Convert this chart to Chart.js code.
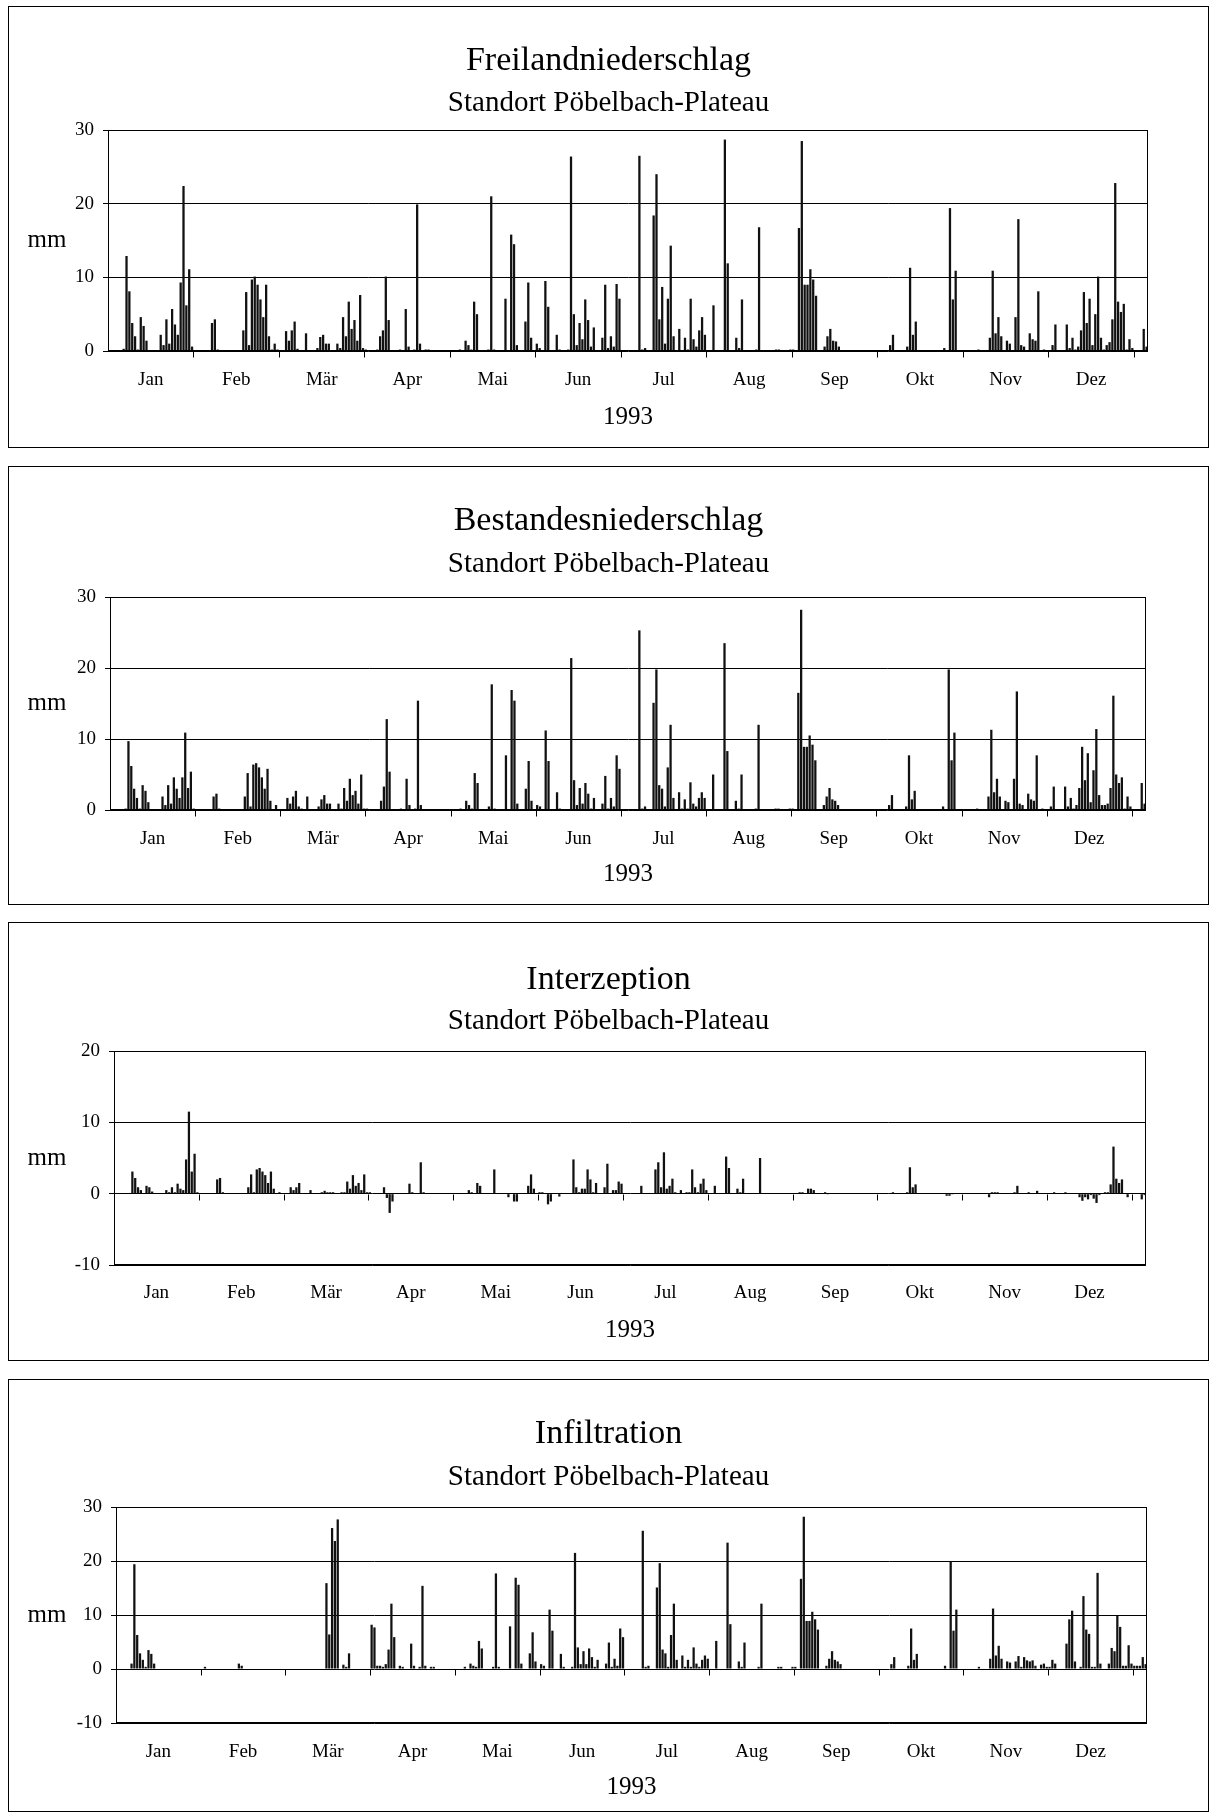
<!DOCTYPE html>
<html>
<head>
<meta charset="utf-8">
<script src="https://cdn.jsdelivr.net/npm/chart.js@4"></script>
<style>
  html, body { margin: 0; padding: 0; background: #fff; }
  body { width: 1209px; height: 1812px; position: relative; overflow: hidden; }
  .panel { position: absolute; left: 8px; width: 1199px; border: 1px solid #000; background: #fff; }
  canvas { display: block; }
</style>
</head>
<body>
<div class="panel" style="top:6px;height:440px"><canvas id="c1" width="1199" height="440"></canvas></div>
<div class="panel" style="top:466px;height:437px"><canvas id="c2" width="1199" height="437"></canvas></div>
<div class="panel" style="top:922px;height:437px"><canvas id="c3" width="1199" height="437"></canvas></div>
<div class="panel" style="top:1379px;height:431px"><canvas id="c4" width="1199" height="431"></canvas></div>
<script>
// Tage 1993 (Index 0 = 1. Januar), Beschriftung alle 30 Tage
const tage = Array.from({ length: 365 }, (_, i) => i + 1);
const monate = ['Jan', 'Feb', 'Mär', 'Apr', 'Mai', 'Jun', 'Jul', 'Aug', 'Sep', 'Okt', 'Nov', 'Dez'];

// [Tagesindex, mm] - Tage ohne Eintrag = kein Wert
const freiland = [
  [5,0.3],[6,12.9],[7,8.1],[8,3.8],[9,2.0],[10,0.2],[11,4.6],[12,3.4],[13,1.4],
  [18,2.2],[19,0.8],[20,4.3],[21,1.0],[22,5.7],[23,3.6],[24,2.2],[25,9.3],[26,22.4],[27,6.2],[28,11.1],[29,0.6],
  [36,3.8],[37,4.3],[38,0.2],
  [47,2.8],[48,8.0],[49,0.8],[50,9.7],[51,10.1],[52,9.0],[53,7.0],[54,4.6],[55,9.0],[56,2.0],[57,0.2],[58,1.0],[59,0.2],
  [62,2.7],[63,1.4],[64,2.8],[65,4.0],[66,0.3],[69,2.4],
  [73,0.4],[74,1.9],[75,2.2],[76,1.0],[77,1.0],
  [80,1.0],[81,0.4],[82,4.6],[83,2.0],[84,6.7],[85,3.0],[86,4.2],[87,1.4],[88,7.6],[89,0.4],[90,0.2],
  [94,0.2],[95,2.0],[96,2.8],[97,10.1],[98,4.2],
  [102,0.2],[104,5.7],[105,0.6],[107,0.2],[108,19.9],[109,1.0],[111,0.2],[112,0.2],
  [123,0.2],[125,1.4],[126,0.8],[127,0.2],[128,6.7],[129,5.0],
  [133,0.2],[134,21.0],[135,0.2],
  [139,7.1],[141,15.8],[142,14.5],[143,0.8],
  [146,4.0],[147,9.3],[148,1.8],[150,1.0],[151,0.4],
  [153,9.5],[154,6.0],[157,2.2],[158,0.2],
  [161,0.2],[162,26.4],[163,5.0],[164,0.8],[165,3.8],[166,1.6],[167,7.0],[168,4.2],[169,0.6],[170,3.2],
  [173,1.8],[174,9.0],[175,0.4],[176,2.0],[177,0.6],[178,9.1],[179,7.1],
  [186,26.5],[187,0.2],[188,0.4],
  [191,18.4],[192,24.0],[193,4.3],[194,8.7],[195,1.0],[196,7.1],[197,14.3],[198,2.0],
  [200,3.0],[202,1.8],[203,0.2],[204,7.1],[205,1.6],[206,0.6],[207,2.8],[208,4.6],[209,2.2],
  [212,6.2],[216,28.7],[217,11.9],
  [220,1.8],[221,0.4],[222,7.0],[227,0.2],[228,16.8],
  [234,0.2],[235,0.2],[239,0.2],[240,0.2],
  [242,16.7],[243,28.5],[244,9.0],[245,9.0],[246,11.1],[247,9.7],[248,7.5],
  [251,0.6],[252,2.0],[253,3.0],[254,1.4],[255,1.3],[256,0.6],
  [274,0.8],[275,2.2],
  [280,0.6],[281,11.3],[282,2.2],[283,4.0],
  [293,0.4],[295,19.4],[296,7.0],[297,10.9],
  [305,0.2],
  [309,1.8],[310,10.9],[311,2.4],[312,4.6],[313,2.0],[315,1.4],[316,1.0],
  [318,4.6],[319,17.9],[320,0.8],[321,0.6],[323,2.4],[324,1.6],[325,1.4],[326,8.1],[328,0.2],
  [331,0.8],[332,3.6],
  [336,3.6],[337,0.4],[338,1.8],[339,0.2],[340,0.6],[341,2.8],[342,8.0],[343,3.8],[344,7.1],[345,0.8],
  [346,5.0],[347,10.1],[348,1.8],[349,0.2],[350,0.8],[351,1.2],[352,4.3],[353,22.8],[354,6.7],[355,5.3],
  [356,6.4],[357,0.2],[358,1.6],[359,0.4],[363,3.0],[364,0.6]
];

const bestand = [
  [5,0.2],[6,9.7],[7,6.2],[8,3.0],[9,1.7],[10,0.2],[11,3.5],[12,2.7],[13,1.1],
  [18,1.9],[19,0.7],[20,3.5],[21,0.9],[22,4.6],[23,3.0],[24,1.7],[25,4.6],[26,10.9],[27,3.1],[28,5.4],[29,0.2],
  [36,1.9],[37,2.3],[38,0.2],
  [47,1.9],[48,5.2],[49,0.5],[50,6.4],[51,6.6],[52,6.0],[53,4.6],[54,3.0],[55,5.8],[56,1.3],[58,0.7],
  [62,1.7],[63,0.9],[64,1.9],[65,2.7],[66,0.5],[67,0.2],[69,1.9],
  [73,0.5],[74,1.5],[75,2.1],[76,0.9],[77,0.9],
  [80,0.9],[81,0.2],[82,3.1],[83,1.3],[84,4.4],[85,2.1],[86,2.7],[87,0.9],[88,5.0],[89,0.2],[90,0.2],
  [95,1.3],[96,3.3],[97,12.8],[98,5.4],
  [102,0.2],[104,4.4],[105,0.7],[107,0.2],[108,15.4],[109,0.7],
  [123,0.2],[125,1.3],[126,0.7],[127,0.2],[128,5.2],[129,3.8],
  [133,0.5],[134,17.7],[135,0.2],
  [139,7.7],[141,16.9],[142,15.4],[143,0.9],
  [146,3.0],[147,6.9],[148,1.3],[150,0.7],[151,0.5],
  [153,11.2],[154,6.9],[157,2.5],[158,0.2],
  [162,21.4],[163,4.2],[164,0.7],[165,3.1],[166,0.9],[167,3.8],[168,2.3],[169,0.2],[170,1.7],
  [173,0.9],[174,4.8],[175,0.2],[176,1.7],[177,0.5],[178,7.7],[179,5.8],
  [186,25.3],[187,0.2],[188,0.5],
  [191,15.1],[192,19.8],[193,3.5],[194,3.0],[195,0.5],[196,6.0],[197,12.0],[198,1.7],
  [200,2.5],[201,0.2],[202,1.5],[203,0.2],[204,3.9],[205,0.9],[206,0.5],[207,1.7],[208,2.5],[209,1.7],
  [212,5.0],[216,23.5],[217,8.3],
  [220,1.3],[221,0.2],[222,5.0],[227,0.2],[228,12.0],
  [234,0.2],[235,0.2],[239,0.2],[240,0.2],
  [242,16.5],[243,28.2],[244,8.9],[245,8.9],[246,10.5],[247,9.2],[248,7.0],
  [251,0.7],[252,1.9],[253,3.1],[254,1.5],[255,1.3],[256,0.7],
  [274,0.7],[275,2.1],
  [280,0.5],[281,7.7],[282,1.5],[283,2.7],
  [293,0.5],[295,19.8],[296,7.0],[297,10.9],
  [305,0.2],
  [309,1.9],[310,11.3],[311,2.5],[312,4.4],[313,1.9],[315,1.3],[316,1.1],
  [318,4.4],[319,16.7],[320,0.9],[321,0.7],[323,2.3],[324,1.5],[325,1.3],[326,7.7],[328,0.2],
  [331,0.5],[332,3.3],
  [336,3.3],[337,0.5],[338,1.7],[339,0.2],[340,0.7],[341,3.1],[342,8.9],[343,4.2],[344,8.0],[345,1.1],
  [346,5.6],[347,11.4],[348,2.1],[349,0.7],[350,0.7],[351,0.9],[352,3.1],[353,16.1],[354,5.0],[355,3.8],
  [356,4.6],[357,0.2],[358,1.9],[359,0.5],[363,3.8],[364,0.9]
];

const interzeption = [
  [5,0.1],[6,3.1],[7,2.2],[8,0.9],[9,0.5],[11,1.1],[12,0.9],[13,0.3],
  [18,0.5],[19,0.2],[20,0.9],[21,0.2],[22,1.4],[23,0.7],[24,0.5],[25,4.8],[26,11.5],[27,3.1],[28,5.6],[29,0.2],
  [36,2.0],[37,2.2],[38,0.2],
  [47,0.9],[48,2.7],[49,0.2],[50,3.4],[51,3.6],[52,3.1],[53,2.6],[54,1.5],[55,3.1],[56,0.7],[58,0.2],
  [62,0.9],[63,0.5],[64,0.9],[65,1.5],[69,0.5],
  [73,0.2],[74,0.4],[75,0.2],[76,0.2],[77,0.2],
  [80,0.2],[81,0.2],[82,1.7],[83,0.7],[84,2.6],[85,1.1],[86,1.5],[87,0.5],[88,2.7],[89,0.2],[90,0.2],
  [95,0.9],[96,-0.6],[97,-2.7],[98,-1.1],
  [104,1.4],[105,0.2],[108,4.4],[109,0.2],
  [125,0.5],[126,0.2],[128,1.5],[129,1.1],[134,3.4],
  [139,-0.5],[141,-1.1],[142,-1.1],
  [146,1.1],[147,2.7],[148,0.7],[150,0.2],[151,0.2],
  [153,-1.5],[154,-1.1],[157,-0.4],
  [162,4.8],[163,0.9],[164,0.2],[165,0.7],[166,0.7],[167,3.4],[168,2.0],[169,0.2],[170,1.5],
  [173,0.9],[174,4.2],[176,0.5],[177,0.5],[178,1.7],[179,1.4],
  [186,1.1],
  [191,3.4],[192,4.4],[193,0.9],[194,5.8],[195,0.7],[196,1.1],[197,2.1],[198,0.2],
  [200,0.5],[202,0.2],[203,0.2],[204,3.4],[205,0.9],[206,0.2],[207,1.4],[208,2.1],[209,0.5],
  [212,1.1],[216,5.2],[217,3.6],
  [220,0.7],[221,0.2],[222,2.1],[228,5.0],
  [242,0.2],[243,0.2],[245,0.7],[246,0.7],[247,0.5],[251,0.2],[252,-0.1],
  [275,0.2],
  [280,0.2],[281,3.7],[282,0.9],[283,1.3],
  [294,-0.3],[295,-0.3],[296,-0.1],
  [309,-0.5],[310,0.2],[311,0.2],[312,0.2],
  [318,0.2],[319,1.1],[323,0.2],[326,0.4],[332,0.2],[336,0.2],
  [341,-0.5],[342,-1.0],[343,-0.5],[344,-0.8],[345,-0.2],[346,-0.7],[347,-1.3],[348,-0.2],
  [350,0.2],[351,0.2],[352,1.3],[353,6.6],[354,2.1],[355,1.5],[356,2.0],[358,-0.5],
  [363,-0.8],[364,-0.2]
];

const infiltration = [
  [5,1.0],[6,19.4],[7,6.3],[8,2.9],[9,1.7],[10,0.4],[11,3.5],[12,2.8],[13,1.0],
  [31,0.4],[43,1.0],[44,0.6],
  [74,15.9],[75,6.4],[76,26.1],[77,23.7],[78,27.7],[80,0.8],[81,0.4],[82,2.9],
  [90,8.2],[91,7.7],[92,0.6],[93,0.6],[94,0.4],[95,0.9],[96,3.6],[97,12.1],[98,5.9],
  [100,0.6],[101,0.4],[104,4.7],[105,0.6],[107,0.4],[108,15.4],[109,0.6],[111,0.4],[112,0.4],
  [123,0.4],[125,1.0],[126,0.6],[127,0.4],[128,5.2],[129,3.8],
  [133,0.4],[134,17.7],[135,0.4],
  [139,7.9],[141,16.9],[142,15.6],[143,1.0],
  [146,2.9],[147,6.8],[148,1.4],[150,0.9],[151,0.6],
  [153,11.0],[154,7.1],[157,2.8],[158,0.4],
  [161,0.4],[162,21.5],[163,4.0],[164,0.9],[165,3.3],[166,0.9],[167,3.8],[168,2.2],[169,0.4],[170,1.7],
  [173,1.0],[174,4.9],[175,0.4],[176,1.9],[177,0.6],[178,7.5],[179,5.9],
  [186,25.6],[187,0.4],[188,0.6],
  [191,15.1],[192,19.6],[193,3.6],[194,2.9],[195,0.4],[196,6.3],[197,12.1],[198,1.7],
  [200,2.5],[201,0.4],[202,1.7],[203,0.4],[204,4.0],[205,1.0],[206,0.4],[207,1.7],[208,2.5],[209,1.9],
  [212,5.2],[216,23.4],[217,8.3],
  [220,1.4],[221,0.4],[222,4.9],[227,0.4],[228,12.1],
  [234,0.4],[235,0.4],[239,0.4],[240,0.4],
  [242,16.7],[243,28.2],[244,8.9],[245,8.9],[246,10.6],[247,9.2],[248,7.3],
  [251,0.6],[252,1.9],[253,3.3],[254,1.7],[255,1.4],[256,0.9],
  [274,0.9],[275,2.2],
  [280,0.6],[281,7.5],[282,1.7],[283,2.8],
  [293,0.6],[295,19.9],[296,7.1],[297,11.0],
  [305,0.4],
  [309,1.9],[310,11.2],[311,2.5],[312,4.3],[313,1.9],[315,1.4],[316,1.2],
  [318,1.4],[319,2.4],[320,0.4],[321,2.2],[322,1.6],[323,1.4],[324,1.6],[325,0.6],[326,-0.2],
  [327,0.8],[328,1.0],[329,0.4],[330,0.4],[331,1.7],[332,1.0],
  [336,4.7],[337,9.2],[338,10.8],[339,1.4],[341,0.4],[342,13.5],[343,7.3],[344,6.5],[345,0.4],
  [346,0.4],[347,17.8],[348,1.0],
  [351,1.0],[352,3.9],[353,3.3],[354,9.9],[355,7.8],[356,0.6],[357,0.6],[358,4.4],[359,1.0],
  [360,0.6],[361,0.6],[362,0.6],[363,2.2],[364,0.9]
];

function tagesreihe(paare) {
  const werte = tage.map(() => null);
  paare.forEach(([i, mm]) => { werte[i] = mm; });
  return werte;
}

Chart.defaults.font.family = '"Liberation Serif", "Times New Roman", serif';
Chart.defaults.color = '#000';

const TITEL_PX = 34, UNTER_PX = 29, TICK_PX = 19, ACHSE_PX = 25;

// Rahmen ums Diagramm, Monatsstriche an der Nulllinie, "mm" links
const rahmen = {
  id: 'rahmen',
  afterDatasetsDraw(chart) {
    const { ctx, chartArea: a, scales: { x, y } } = chart;
    ctx.save();
    ctx.strokeStyle = '#000';
    ctx.lineWidth = 1;
    ctx.strokeRect(Math.round(a.left) + 0.5, Math.round(a.top) + 0.5,
      Math.round(a.right) - Math.round(a.left) - 1, Math.round(a.bottom) - Math.round(a.top) - 1);
    const y0 = Math.round(y.getPixelForValue(0)) + 0.5;
    ctx.beginPath();
    for (let k = 1; k <= 12; k++) {
      const px = Math.round(x.getPixelForValue(30 * k - 0.5)) + 0.5;
      ctx.moveTo(px, y0);
      ctx.lineTo(px, y0 + 6);
    }
    ctx.stroke();
    ctx.fillStyle = '#000';
    ctx.font = ACHSE_PX + 'px "Liberation Serif"';
    ctx.textAlign = 'center';
    ctx.textBaseline = 'middle';
    ctx.fillText('mm', 38, (a.top + a.bottom) / 2);
    ctx.restore();
  }
};

function diagramm(id, titel, paare, min, max, g) {
  const el = document.getElementById(id);
  const W = el.width, H = el.height;
  const titelUnten = g.titelY + 0.6 * TITEL_PX;
  return new Chart(el, {
    type: 'bar',
    data: {
      labels: tage,
      datasets: [{
        data: tagesreihe(paare),
        backgroundColor: '#111',
        borderWidth: 0,
        barPercentage: 0.8,
        categoryPercentage: 1
      }]
    },
    options: {
      responsive: false,
      animation: false,
      events: [],
      devicePixelRatio: 1,
      layout: { padding: 0 },
      plugins: {
        legend: { display: false },
        tooltip: { enabled: false },
        title: {
          display: true, text: titel, color: '#000',
          font: { size: TITEL_PX, weight: 'normal', lineHeight: 1.2 },
          padding: { top: g.titelY - 0.6 * TITEL_PX, bottom: 0 }
        },
        subtitle: {
          display: true, text: 'Standort Pöbelbach-Plateau', color: '#000',
          font: { size: UNTER_PX, weight: 'normal', lineHeight: 1.2 },
          padding: { top: g.unterY - 0.6 * UNTER_PX - titelUnten, bottom: g.oben - g.unterY - 0.6 * UNTER_PX }
        }
      },
      scales: {
        x: {
          grid: { display: false, drawTicks: false },
          border: { display: false },
          ticks: {
            autoSkip: false, maxRotation: 0, minRotation: 0,
            font: { size: TICK_PX },
            padding: g.monatY - g.unten - 0.6 * TICK_PX,
            labelOffset: -1.4,
            callback: (v, i) => (i % 30 === 15 ? monate[(i - 15) / 30] : '')
          },
          title: {
            display: true, text: '1993', color: '#000',
            font: { size: ACHSE_PX, lineHeight: 1.2 },
            padding: { top: 0, bottom: H - g.jahrY - 0.6 * ACHSE_PX }
          },
          afterFit: (s) => { s.height = H - g.unten; }
        },
        y: {
          min: min, max: max,
          ticks: { stepSize: 10, font: { size: TICK_PX }, padding: 9 },
          grid: { color: '#000', lineWidth: 1, tickLength: 5, drawTicks: true },
          border: { display: true, color: '#000' },
          afterFit: (s) => { s.width = g.links; }
        },
        // leerer Rand rechts, damit die Titel mittig über dem ganzen Kasten stehen
        rand: {
          type: 'linear', position: 'right',
          grid: { display: false, drawTicks: false },
          border: { display: false },
          ticks: { display: false },
          afterFit: (s) => { s.width = W - g.rechts; }
        }
      }
    },
    plugins: [rahmen]
  });
}

diagramm('c1', 'Freilandniederschlag', freiland, 0, 30,
  { links: 99, rechts: 1139, oben: 123, unten: 344, titelY: 54, unterY: 96, monatY: 373, jahrY: 410 });
diagramm('c2', 'Bestandesniederschlag', bestand, 0, 30,
  { links: 101, rechts: 1137, oben: 130, unten: 343, titelY: 54, unterY: 97, monatY: 372, jahrY: 407 });
diagramm('c3', 'Interzeption', interzeption, -10, 20,
  { links: 105, rechts: 1137, oben: 128, unten: 342, titelY: 57, unterY: 98, monatY: 370, jahrY: 407 });
diagramm('c4', 'Infiltration', infiltration, -10, 30,
  { links: 107, rechts: 1138, oben: 127, unten: 343, titelY: 54, unterY: 97, monatY: 372, jahrY: 407 });
</script>
</body>
</html>
